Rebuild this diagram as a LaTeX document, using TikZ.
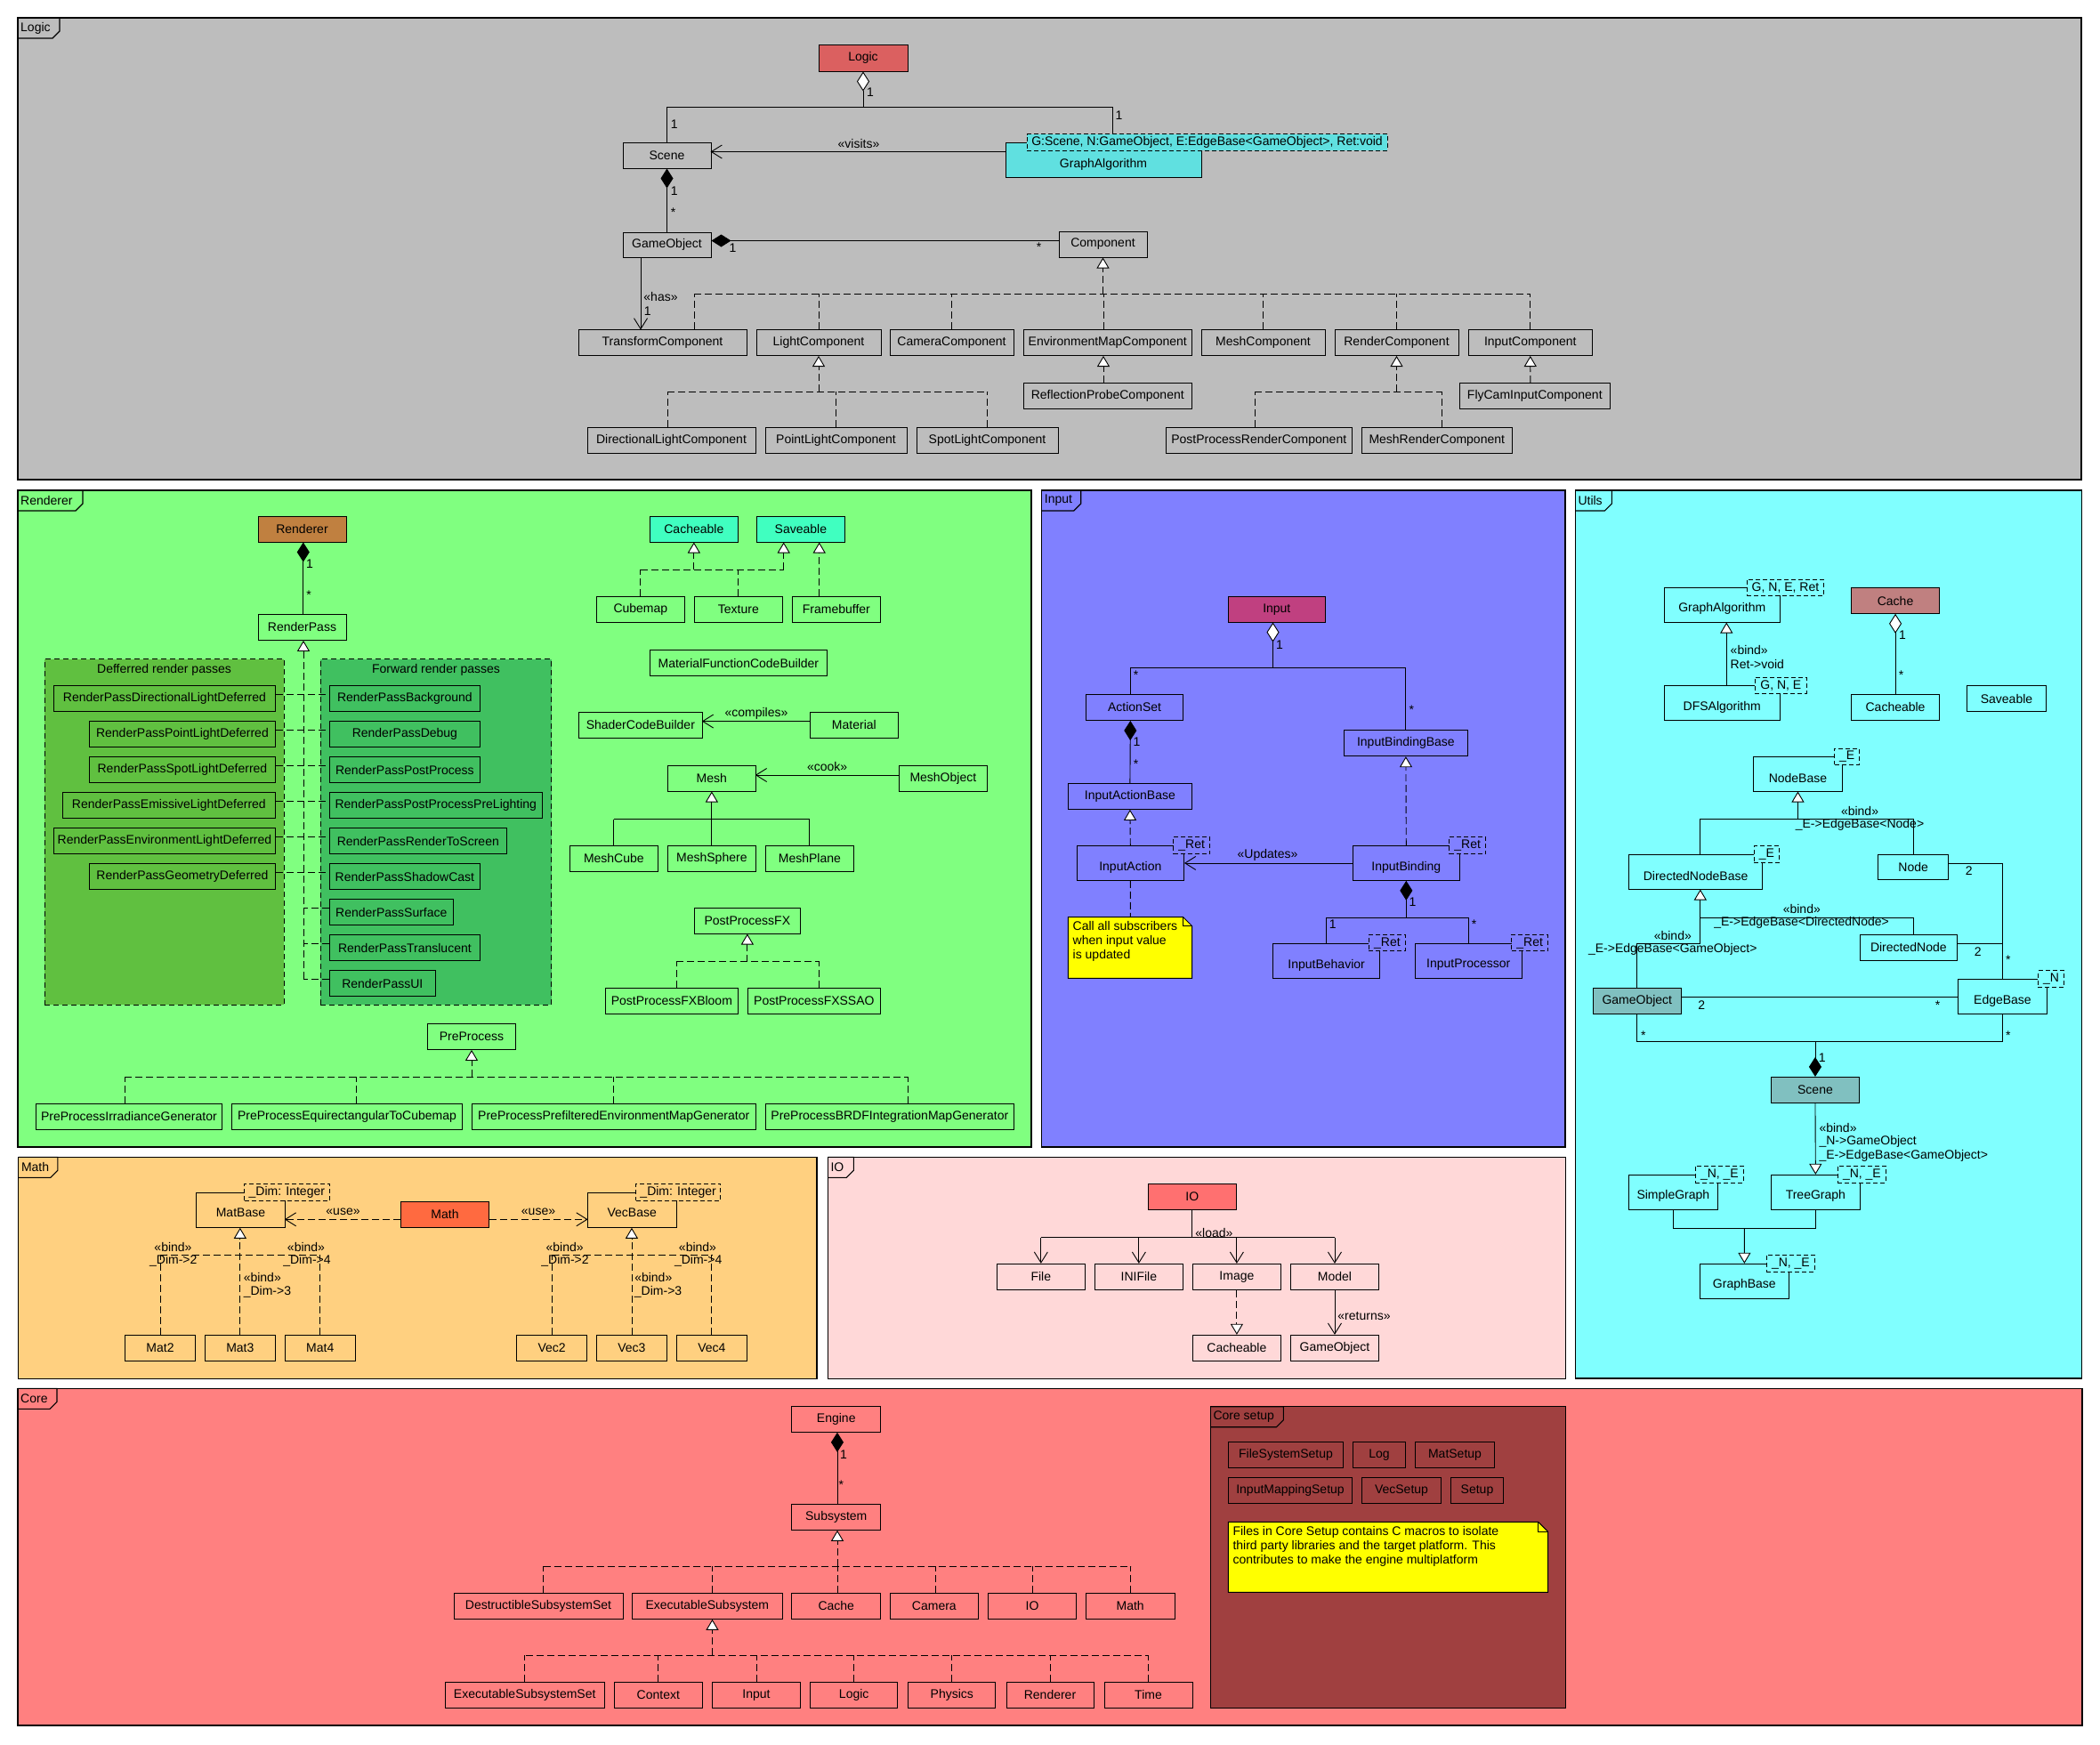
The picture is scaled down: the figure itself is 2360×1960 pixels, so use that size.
\documentclass[tikz,border=0pt]{standalone}
\usepackage{fontspec}
\setmainfont{Liberation Sans}
\usetikzlibrary{arrows.meta}
\definecolor{logicbg}{HTML}{BDBDBD}
\definecolor{logicred}{HTML}{DB6060}
\definecolor{gacyan}{HTML}{60E0E0}
\definecolor{rendbg}{HTML}{80FF80}
\definecolor{rendbrown}{HTML}{C08040}
\definecolor{defgreen}{HTML}{60C040}
\definecolor{fwdgreen}{HTML}{40C060}
\definecolor{aquag}{HTML}{40FFC0}
\definecolor{inputbg}{HTML}{8080FF}
\definecolor{inputmag}{HTML}{C04080}
\definecolor{noteyellow}{HTML}{FFFF00}
\definecolor{utilsbg}{HTML}{80FFFF}
\definecolor{cachebrown}{HTML}{C08080}
\definecolor{tealgray}{HTML}{80C0C0}
\definecolor{mathbg}{HTML}{FFD080}
\definecolor{mathred}{HTML}{FF6A40}
\definecolor{iobg}{HTML}{FFD8D8}
\definecolor{iored}{HTML}{FF7070}
\definecolor{corebg}{HTML}{FF8080}
\definecolor{setupbg}{HTML}{A04040}
\newcommand\fs{\fontsize{14}{16}\selectfont}
\newcommand\lowtxt[2][-4.5pt]{\raisebox{#1}[\height][\depth]{#2}}
\newcommand\ubox[7][]{\node[ucls,#1,minimum width={(#5-#3)*1pt},minimum height={(#6-#4)*1pt}] (#2) at ({(#3+#5)/2},{(#4+#6)/2}) {#7};}
\newcommand\utmpl[7][]{\node[utmplbox,#1,minimum width={(#5-#3)*1pt},minimum height={(#6-#4)*1pt}] (#2) at ({(#3+#5)/2},{(#4+#6)/2}) {#7};}
\newcommand\lb[4][]{\node[ulab,#1] (#2) at (#3) {#4};}
\newcommand\utab[5]{\draw[line width=1.1pt] (#2,#3) -- ({#2+#4},#3) -- ({#2+#4},{#3+15}) -- ({#2+#4-8},{#3+23}) -- (#2,{#3+23});
 \node[ulab,anchor=west] (#1) at ({#2+3},{#3+11.5}) {#5};}
\newcommand\unote[5]{\draw[line width=1pt,fill=noteyellow] (#1,#2) -- ({#3-#5},#2) -- (#3,{#2+#5}) -- (#3,#4) -- (#1,#4) -- cycle;
 \draw[line width=1pt] ({#3-#5},#2) -- ({#3-#5},{#2+#5}) -- (#3,{#2+#5});}
\tikzset{
 ucls/.style={draw,line width=1pt,inner sep=0pt,font=\fs,align=center},
 utmplbox/.style={draw,line width=0.9pt,dash pattern=on 5pt off 3pt,inner sep=0pt,font=\fs},
 ulab/.style={inner sep=0pt,font=\fs},
 ugrp/.style={draw,line width=1pt,dash pattern=on 6pt off 4pt},
 dl/.style={line width=0.9pt,dash pattern=on 8pt off 4pt},
 sl/.style={line width=0.9pt},
 realz/.style={dl,-{Triangle[length=12pt,width=14pt,fill=white]}},
 ugen/.style={sl,-{Triangle[length=12pt,width=14pt,fill=white]}},
 udep/.style={dl,-{Straight Barb[length=12pt,width=15pt]}},
 uassoc/.style={sl,-{Straight Barb[length=12pt,width=15pt]}},
 ucompo/.style={sl,{Diamond[length=22pt,width=14pt]}-},
 uaggro/.style={sl,{Diamond[length=22pt,width=14pt,fill=white]}-},
}
\begin{document}
\begin{tikzpicture}[x=1pt,y=-1pt]
\fill[white] (0,0) rectangle (2360,1960);
\useasboundingbox (0,0) rectangle (2360,1960);
% ================= FRAMES =================
\ubox[fill=logicbg,line width=1.2pt]{fLogic}{20}{20}{2339}{539}{}
\utab{tLogic}{20}{20}{47}{Logic}
\ubox[fill=rendbg,line width=1.2pt]{fRend}{20}{551}{1159}{1289}{}
\utab{tRend}{20}{551}{73}{Renderer}
\ubox[fill=inputbg,line width=1.2pt]{fInput}{1170.7}{551}{1759}{1289}{}
\utab{tInput}{1170.7}{551}{44}{Input}
\ubox[fill=utilsbg,line width=1.2pt]{fUtils}{1770.3}{551}{2339.8}{1549}{}
\utab{tUtils}{1770.3}{551}{41}{Utils}
\ubox[fill=mathbg,line width=1.2pt]{fMath}{20.8}{1300.3}{918}{1549.3}{}
\utab{tMath}{20.8}{1300.3}{44}{Math}
\ubox[fill=iobg,line width=1.2pt]{fIO}{930.3}{1300.3}{1759.6}{1549.3}{}
\utab{tIO}{930.3}{1300.3}{29}{IO}
\ubox[fill=corebg,line width=1.2pt]{fCore}{20}{1560.3}{2340}{1939}{}
\utab{tCore}{20}{1560.3}{44}{Core}
\ubox[fill=setupbg,line width=1.2pt]{fSetup}{1360.3}{1580.7}{1759.3}{1919.3}{}
\utab{tSetup}{1360.3}{1580.7}{82}{Core setup}
% ================= LOGIC =================
\ubox[fill=logicred]{logic}{920}{50}{1020}{80}{Logic}
\ubox{scene}{700}{160}{799}{189}{Scene}
\ubox[fill=gacyan]{ga}{1130}{160}{1350}{199}{\lowtxt[-5pt]{GraphAlgorithm}}
\utmpl[fill=gacyan]{gat}{1154}{150.5}{1559}{169}{G:Scene, N:GameObject, E:EdgeBase<GameObject>, Ret:void}
\ubox{gobj}{700}{261}{799}{289}{GameObject}
\ubox{comp}{1190}{260}{1289}{289}{Component}
\ubox{tc}{650}{370}{839}{399.5}{TransformComponent}
\ubox{lc}{850}{370}{990}{399.5}{LightComponent}
\ubox{cc}{1000}{370}{1139}{399.5}{CameraComponent}
\ubox{emc}{1150}{370}{1339.5}{399.5}{EnvironmentMapComponent}
\ubox{mc}{1350}{370}{1489}{399.5}{MeshComponent}
\ubox{rc}{1500}{370}{1639}{399.5}{RenderComponent}
\ubox{ic}{1650}{370}{1789.5}{399.5}{InputComponent}
\ubox{rpc}{1150}{430.5}{1339.5}{459.5}{ReflectionProbeComponent}
\ubox{fcic}{1640}{430.5}{1809.6}{459.5}{FlyCamInputComponent}
\ubox{dlc}{660}{480.4}{849}{509}{DirectionalLightComponent}
\ubox{plc}{860}{480.4}{1019}{509}{PointLightComponent}
\ubox{slc}{1030}{480.4}{1189}{509}{SpotLightComponent}
\ubox{pprc}{1310}{480.4}{1519.5}{509}{PostProcessRenderComponent}
\ubox{mrc}{1530}{480.4}{1699.5}{509}{MeshRenderComponent}
\draw[uaggro] (logic.south) -- ++(0,40) coordinate (lgb);
\draw[sl] (scene.north) |- (lgb) -| ([xshift=10pt,yshift=9.5pt]ga.north);
\draw[uassoc] ([yshift=9pt]ga.west) -- ++(-331,0);
\draw[ucompo] (scene.south) -- (gobj.north);
\draw[ucompo] ([yshift=4.5pt]gobj.east) -- ++(391,0);
\draw[uassoc] ([xshift=-29.5pt]gobj.south) -- ++(0,81);
\coordinate (cbL) at (780,330); \coordinate (cbR) at (1720,330);
\draw[dl] (cbL) -- (cbR);
\draw[realz] (comp.south |- cbL) -- (comp.south);
\draw[dl] ([xshift=35.5pt]tc.north) -- ++(0,-40);
\draw[dl] (lc.north) -- (lc.north |- cbL);
\draw[dl] (cc.north) -- (cc.north |- cbL);
\draw[dl] ([xshift=-4.75pt]emc.north) -- ++(0,-40);
\draw[dl] (mc.north) -- (mc.north |- cbL);
\draw[dl] (rc.north) -- (rc.north |- cbL);
\draw[dl] (ic.north) -- (ic.north |- cbL);
\draw[realz] ([xshift=-4.75pt]rpc.north) -- ([xshift=-4.75pt]emc.south);
\draw[realz] ([xshift=-5pt]fcic.north) -- (ic.south);
\coordinate (lbL) at (750,440.4); \coordinate (lbR) at (1110,440.4);
\draw[dl] (lbL) -- (lbR);
\draw[realz] (lc.south |- lbL) -- (lc.south);
\draw[dl] ([xshift=-4.5pt]dlc.north) -- ++(0,-40);
\draw[dl] (plc.north) -- (plc.north |- lbL);
\draw[dl] (slc.north) -- (slc.north |- lbL);
\coordinate (rbL) at (1410,440.4); \coordinate (rbR) at (1620,440.4);
\draw[dl] (rbL) -- (rbR);
\draw[realz] (rc.south |- rbL) -- (rc.south);
\draw[dl] ([xshift=-4.75pt]pprc.north) -- ++(0,-40);
\draw[dl] ([xshift=5.25pt]mrc.north) -- ++(0,-40);
\lb{l1}{978,104}{1}
\lb{l2}{757.7,139.5}{1}
\lb{l3}{1257.5,129.5}{1}
\lb{l4}{965,161.5}{«visits»}
\lb{l5}{757.7,214.5}{1}
\lb{l6}{756.5,239}{*}
\lb{l7}{823.5,279}{1}
\lb{l8}{1167.5,278}{*}
\lb{l9}{742.5,333.5}{«has»}
\lb{l10}{727.7,349.5}{1}
% ================= RENDERER =================
\ubox[fill=rendbrown]{renderer}{290}{580.7}{389}{609}{Renderer}
\ubox{rpass}{290}{690}{389}{719.4}{RenderPass}
\draw[ucompo] ([xshift=1.3pt]renderer.south) -- ([xshift=1.3pt]rpass.north);
\lb{l11}{348,634}{1}
\lb{l12}{347,669}{*}
\ubox[ugrp,fill=defgreen]{gdef}{50}{740.7}{319}{1129.4}{}
\ubox[ugrp,fill=fwdgreen]{gfwd}{360}{740.7}{619.6}{1129.4}{}
\lb{l15}{184.5,753}{Defferred render passes}
\lb{l16}{490,753}{Forward render passes}
\ubox{d1}{60.4}{770.7}{309.5}{799.3}{RenderPassDirectionalLightDeferred}
\ubox{d2}{100.4}{810.7}{309.5}{839.3}{RenderPassPointLightDeferred}
\ubox{d3}{100.4}{850.7}{309.5}{879.3}{RenderPassSpotLightDeferred}
\ubox{d4}{70.2}{890.7}{309.5}{919.3}{RenderPassEmissiveLightDeferred}
\ubox{d5}{60.4}{930.7}{309.5}{959.3}{RenderPassEnvironmentLightDeferred}
\ubox{d6}{100.4}{970.7}{309.5}{999.3}{RenderPassGeometryDeferred}
\ubox{f1}{370.2}{770.7}{539.6}{799.3}{RenderPassBackground}
\ubox{f2}{370.2}{810.7}{539.6}{839.3}{RenderPassDebug}
\ubox{f3}{370.2}{850.7}{539.6}{879.3}{RenderPassPostProcess}
\ubox{f4}{370.2}{890.7}{609.4}{919.3}{RenderPassPostProcessPreLighting}
\ubox{f5}{370.2}{930.7}{569.4}{959.3}{RenderPassRenderToScreen}
\ubox{f6}{370.2}{970.7}{539.6}{999.3}{RenderPassShadowCast}
\ubox{f7}{370.2}{1010.7}{509.4}{1039.3}{RenderPassSurface}
\ubox{f8}{370.2}{1050.7}{539.6}{1079.3}{RenderPassTranslucent}
\ubox{f9}{370.2}{1090.7}{489.4}{1119.3}{RenderPassUI}
\foreach \i in {1,...,6} \draw[dl] ([yshift=4.5pt]d\i.east) -- ([yshift=4.5pt]f\i.west);
\foreach \i in {7,8,9} \draw[dl] ([yshift=4.5pt]f\i.west) -- ++(-29.2,0);
\coordinate (rtrunk) at (341,1100.4);
\draw[realz] (rtrunk) -- (rtrunk |- rpass.south);
\ubox[fill=aquag]{rcache}{730.4}{580.7}{829.3}{609}{Cacheable}
\ubox[fill=aquag]{rsave}{850.4}{580.7}{949.3}{609}{Saveable}
\ubox{cubemap}{670.4}{670.4}{769.3}{699}{Cubemap}
\ubox{texture}{780.4}{670.4}{879.3}{699}{Texture}
\ubox{fbuf}{890.4}{670.4}{989.3}{699}{Framebuffer}
\coordinate (tbL) at (720.4,640.3); \coordinate (tbR) at (880.7,640.3);
\draw[dl] (tbL) -- (tbR);
\draw[realz] (rcache.south |- tbL) -- (rcache.south);
\draw[realz] (tbR) -- (tbR |- rsave.south);
\draw[dl] (cubemap.north) -- (cubemap.north |- tbL);
\draw[dl] (texture.north) -- (texture.north |- tbL);
\draw[realz] ([xshift=-19.15pt]fbuf.north) -- ([xshift=20.85pt]rsave.south);
\ubox{mfcb}{730.4}{730.5}{929.3}{759.6}{MaterialFunctionCodeBuilder}
\ubox{scb}{650.4}{800.3}{789.3}{829.4}{ShaderCodeBuilder}
\ubox{material}{910.4}{800.3}{1009.3}{829.4}{Material}
\draw[uassoc] ([yshift=4.3pt]material.west) -- ++(-121.1,0);
\lb{l13}{850,801.5}{«compiles»}
\ubox{mesh}{750.4}{860.4}{849.3}{889}{Mesh}
\ubox{meshobj}{1010.4}{860.4}{1109.3}{889}{MeshObject}
\draw[uassoc] ([yshift=3.7pt]meshobj.west) -- ++(-161.1,0);
\lb{l14}{929.6,861.4}{«cook»}
\ubox{meshcube}{640.4}{950.6}{739.3}{979.2}{MeshCube}
\ubox{meshsphere}{750.4}{950.6}{849.3}{979.2}{MeshSphere}
\ubox{meshplane}{860.4}{950.6}{959.3}{979.2}{MeshPlane}
\coordinate (mbL) at (690.4,920.5); \coordinate (mbR) at (910.4,920.5);
\draw[sl] (mbL) -- (mbR);
\draw[ugen] (mesh.south |- mbL) -- (mesh.south);
\draw[sl] (meshcube.north) -- (meshcube.north |- mbL);
\draw[sl] (meshsphere.north) -- (meshsphere.north |- mbL);
\draw[sl] (meshplane.north) -- (meshplane.north |- mbL);
\ubox{ppfx}{780.4}{1020.4}{899.3}{1049}{PostProcessFX}
\ubox{bloom}{680.4}{1110.5}{829.3}{1139.1}{PostProcessFXBloom}
\ubox{ssao}{840.4}{1110.5}{989.3}{1139.1}{PostProcessFXSSAO}
\coordinate (pbL) at (760.4,1080.5); \coordinate (pbR) at (920.4,1080.5);
\draw[dl] (pbL) -- (pbR);
\draw[realz] (ppfx.south |- pbL) -- (ppfx.south);
\draw[dl] ([xshift=5.5pt]bloom.north) -- ++(0,-30);
\draw[dl] ([xshift=5.5pt]ssao.north) -- ++(0,-30);
\ubox{prep}{480.4}{1150.8}{579.6}{1179.4}{PreProcess}
\ubox{irr}{40.4}{1240.4}{249.4}{1269}{PreProcessIrradianceGenerator}
\ubox{equi}{260.4}{1240.4}{519.6}{1269}{PreProcessEquirectangularToCubemap}
\ubox{pref}{530.2}{1240.4}{849.3}{1269}{PreProcessPrefilteredEnvironmentMapGenerator}
\ubox{brdf}{860.4}{1240.4}{1139.3}{1269}{PreProcessBRDFIntegrationMapGenerator}
\coordinate (ppbL) at (140.4,1210.4); \coordinate (ppbR) at (1020.4,1210.4);
\draw[dl] (ppbL) -- (ppbR);
\draw[realz] (prep.south |- ppbL) -- (prep.south);
\draw[dl] ([xshift=-4.5pt]irr.north) -- ++(0,-30);
\draw[dl] ([xshift=10.4pt]equi.north) -- ++(0,-30);
\draw[dl] (pref.north) -- (pref.north |- ppbL);
\draw[dl] ([xshift=20.5pt]brdf.north) -- ++(0,-30);
% ================= INPUT =================
\ubox[fill=inputmag]{input}{1380.2}{670.4}{1489.4}{699}{Input}
\ubox{actset}{1220.5}{780.4}{1329.6}{809.5}{ActionSet}
\ubox{iab}{1200.3}{880.3}{1339.5}{909.4}{InputActionBase}
\ubox{iaction}{1210.2}{950.6}{1330.4}{989.3}{\lowtxt{InputAction}}
\utmpl[fill=inputbg]{iactiont}{1318.6}{940.4}{1359.7}{959.8}{\_Ret}
\ubox{ibb}{1510.3}{820.7}{1649.5}{849.7}{InputBindingBase}
\ubox{ibind}{1520.2}{950.6}{1640.4}{989.3}{\lowtxt{InputBinding}}
\utmpl[fill=inputbg]{ibindt}{1628.6}{940.4}{1669.7}{959.8}{\_Ret}
\ubox{ibeh}{1430.5}{1060.6}{1550.7}{1099.4}{\lowtxt{InputBehavior}}
\utmpl[fill=inputbg]{ibeht}{1538.4}{1050.4}{1579.5}{1068.8}{\_Ret}
\ubox{iproc}{1590.2}{1060.6}{1710.4}{1099.4}{\lowtxt{InputProcessor}}
\utmpl[fill=inputbg]{iproct}{1698.6}{1050.4}{1739.7}{1068.8}{\_Ret}
\unote{1200.3}{1030.5}{1339.5}{1099.4}{10}
\node[ulab,anchor=north west,align=left] (inote) at (1205.5,1035.5) {Call all subscribers\\when input value\\is updated};
\coordinate (inoteTop) at (1270.3,1030.5);
\draw[dl] (iaction.south) -- (inoteTop);
\draw[uaggro] ([xshift=-4.3pt]input.south) -- ++(0,51.4) coordinate (inb);
\draw[sl] ([xshift=-4.7pt]actset.north) |- (inb) -| (ibb.north);
\draw[ucompo] ([xshift=-4.7pt]actset.south) -- (iab.north);
\draw[realz] (iaction.north) -- (iab.south);
\draw[realz] (ibind.north) -- (ibb.south);
\draw[uassoc] (ibind.west) -- (iaction.east);
\draw[ucompo] (ibind.south) -- ++(0,41.2) coordinate (ibbus);
\draw[sl] (ibeh.north) |- (ibbus) -| (iproc.north);
\lb{l17}{1438,724.2}{1}
\lb{l18}{1276.6,759}{*}
\lb{l19}{1586.3,798}{*}
\lb{l20}{1277.4,833.7}{1}
\lb{l21}{1276.6,858.5}{*}
\lb{l22}{1424.5,961.2}{«Updates»}
\lb{l23}{1587.4,1013.6}{1}
\lb{l24}{1497.7,1038.8}{1}
\lb{l25}{1656.6,1038.4}{*}
% ================= UTILS =================
\ubox{uga}{1870.2}{660.7}{2000.3}{699}{\lowtxt{GraphAlgorithm}}
\utmpl[fill=utilsbg]{ugat}{1963.2}{651}{2049.7}{669}{G, N, E, Ret}
\ubox{udfs}{1870.2}{770.7}{2000.3}{809.5}{\lowtxt{DFSAlgorithm}}
\utmpl[fill=utilsbg]{udfst}{1972.4}{761}{2030.2}{779}{G, N, E}
\draw[ugen] ([xshift=5pt]udfs.north) -- ([xshift=5pt]uga.south);
\lb[anchor=west]{l26}{1944.5,730}{«bind»}
\lb[anchor=west]{l27}{1944.5,746}{Ret->void}
\ubox[fill=cachebrown]{ucache}{2080.3}{660.7}{2179.8}{689.3}{Cache}
\ubox{ucacheable}{2080.3}{780.4}{2179.8}{809.5}{Cacheable}
\draw[uaggro] (ucache.south) -- (ucacheable.north);
\lb{l28}{2138,714}{1}
\lb{l29}{2136.6,759}{*}
\ubox{usave}{2210.4}{770.7}{2299.6}{799.3}{Saveable}
\ubox{nbase}{1970.5}{850.7}{2070.4}{889}{\lowtxt{NodeBase}}
\utmpl[fill=utilsbg]{nbaset}{2061.6}{841}{2089.5}{859}{\_E}
\ubox{dnbase}{1830.4}{960.7}{1980.8}{999}{\lowtxt{DirectedNodeBase}}
\utmpl[fill=utilsbg]{dnbaset}{1971.3}{950.6}{1999.6}{969.5}{\_E}
\ubox{unode}{2110.5}{960.7}{2189.8}{988.9}{Node}
\ubox{dnode}{2090.3}{1050.4}{2199.3}{1079}{DirectedNode}
\ubox[fill=tealgray]{ugo}{1790.2}{1110.5}{1889.4}{1139.1}{GameObject}
\ubox{ebase}{2200.5}{1100.8}{2300.4}{1139.1}{\lowtxt{EdgeBase}}
\utmpl[fill=utilsbg]{ebaset}{2290.4}{1090.7}{2319.5}{1109.6}{\_N}
\ubox[fill=tealgray]{uscene}{1990.4}{1210.4}{2089.5}{1239.2}{Scene}
\ubox{sgraph}{1830.4}{1320.3}{1930.3}{1359.3}{\lowtxt{SimpleGraph}}
\utmpl[fill=utilsbg]{sgrapht}{1905.4}{1310.3}{1959.4}{1329.3}{\_N, \_E}
\ubox{tgraph}{1990.4}{1320.3}{2090.3}{1359.3}{\lowtxt{TreeGraph}}
\utmpl[fill=utilsbg]{tgrapht}{2065.4}{1310.3}{2119.4}{1329.3}{\_N, \_E}
\ubox{gbase}{1910.4}{1420.3}{2010.3}{1459.3}{\lowtxt{GraphBase}}
\utmpl[fill=utilsbg]{gbaset}{1985.4}{1410.3}{2039.4}{1429.3}{\_N, \_E}
\coordinate (nbL) at (1910.8,920.5);
\draw[ugen] (nbase.south |- nbL) -- (nbase.south);
\draw[sl] ([xshift=5.2pt]dnbase.north) |- (unode.north |- nbL) -- (unode.north);
\lb{l30}{2090,911.8}{«bind»}
\lb{l31}{2090,927.3}{\_E->EdgeBase<Node>}
\coordinate (dnbJ) at (1910.8,1031);
\coordinate (goJ) at (1910.8,1060.1);
\draw[ugen] (goJ) -- (goJ |- dnbase.south);
\draw[sl] ([xshift=5.6pt]dnode.north) |- (dnbJ);
\draw[sl] (ugo.north) |- (goJ);
\lb{l32}{2024.8,1021.3}{«bind»}
\lb{l33}{2024.6,1037.3}{\_E->EdgeBase<DirectedNode>}
\lb{l34}{1879.8,1051.4}{«bind»}
\lb{l35}{1879.8,1067}{\_E->EdgeBase<GameObject>}
\draw[sl] ([yshift=4.8pt]unode.east) -| (ebase.north);
\draw[sl] ([yshift=4.6pt]dnode.east) -- ++(51.1,0);
\draw[sl] (ugo.east |- ebase.west) -- (ebase.west);
\draw[sl] (ugo.south) -- ++(0,31.1) -| (ebase.south);
\draw[ucompo] (uscene.north) -- ++(0,-40.2);
\lb{l36}{2212.7,979}{2}
\lb{l37}{2222.7,1069.3}{2}
\lb{l38}{2256.7,1079}{*}
\lb{l39}{1912.3,1129.6}{2}
\lb{l40}{2177.5,1129.3}{*}
\lb{l41}{1846.9,1163.2}{*}
\lb{l42}{2256.7,1163.2}{*}
\lb{l43}{2047.8,1189}{1}
\draw[ugen] (uscene.south) -- (tgraph.north);
\lb[anchor=west]{l44}{2044.3,1267.3}{«bind»}
\lb[anchor=west]{l45}{2044.3,1283.3}{\_N->GameObject}
\lb[anchor=west]{l46}{2044.3,1299.3}{\_E->EdgeBase<GameObject>}
\coordinate (gbJ) at (1960.4,1380.3);
\draw[sl] (sgraph.south) |- (gbJ) -| (tgraph.south);
\draw[ugen] (gbJ) -- (gbase.north);
% ================= MATH =================
\ubox{matbase}{220.6}{1340.3}{320.3}{1379.3}{\lowtxt[-2.5pt]{MatBase}}
\utmpl[fill=mathbg]{matbaset}{274.6}{1330}{370.1}{1349}{\_Dim: Integer}
\ubox[fill=mathred]{mathn}{450.8}{1350.3}{549.2}{1379.3}{Math}
\ubox{vecbase}{660.1}{1340.3}{760.4}{1379.3}{\lowtxt[-2.5pt]{VecBase}}
\utmpl[fill=mathbg]{vecbaset}{714.7}{1330}{809.6}{1349}{\_Dim: Integer}
\ubox{mat2}{140.6}{1500.3}{219.4}{1529.3}{Mat2}
\ubox{mat3}{230.1}{1500.3}{309.6}{1529.3}{Mat3}
\ubox{mat4}{320.3}{1500.3}{399.2}{1529.3}{Mat4}
\ubox{vec2}{580.7}{1500.3}{659.5}{1529.3}{Vec2}
\ubox{vec3}{670.2}{1500.3}{749.7}{1529.3}{Vec3}
\ubox{vec4}{760.4}{1500.3}{839.3}{1529.3}{Vec4}
\draw[udep] ([yshift=-5.5pt]mathn.west) -- ++(-130.5,0);
\draw[udep] ([yshift=-5.5pt]mathn.east) -- ++(110.9,0);
\lb{l59}{385.5,1361.7}{«use»}
\lb{l60}{605,1361.7}{«use»}
\coordinate (mbbL) at (180.3,1410.3); \coordinate (mbbR) at (360,1410.3);
\draw[dl] (mbbL) -- (mbbR);
\draw[dl] (mat2.north) -- (mat2.north |- mbbL);
\draw[dl] (mat4.north) -- (mat4.north |- mbbL);
\draw[realz] (mat3.north) -- (mat3.north |- matbase.south);
\coordinate (vbbL) at (620.4,1410.3); \coordinate (vbbR) at (800.7,1410.3);
\draw[dl] (vbbL) -- (vbbR);
\draw[dl] (vec2.north) -- (vec2.north |- vbbL);
\draw[dl] (vec4.north) -- (vec4.north |- vbbL);
\draw[realz] (vec3.north) -- (vec3.north |- vecbase.south);
\lb{l47}{194.5,1401}{«bind»}
\lb{l48}{194.8,1416.7}{\_Dim->2}
\lb{l49}{344,1401}{«bind»}
\lb{l50}{345,1416.7}{\_Dim->4}
\lb{l51}{294.8,1435.7}{«bind»}
\lb{l52}{300.4,1451.7}{\_Dim->3}
\lb{l53}{634.6,1401}{«bind»}
\lb{l54}{635,1416.7}{\_Dim->2}
\lb{l55}{784,1401}{«bind»}
\lb{l56}{784.7,1416.7}{\_Dim->4}
\lb{l57}{734.3,1435.7}{«bind»}
\lb{l58}{739.6,1451.7}{\_Dim->3}
% ================= IO =================
\ubox[fill=iored]{ion}{1290.2}{1330.3}{1389.4}{1359.3}{IO}
\ubox{file}{1120.5}{1420.3}{1219.2}{1449.3}{File}
\ubox{inifile}{1230.6}{1420.3}{1329.2}{1449.3}{INIFile}
\ubox{image}{1340.6}{1420.3}{1439.2}{1449.3}{Image}
\ubox{model}{1450.6}{1420.3}{1549.3}{1449.3}{Model}
\ubox{iocache}{1340.6}{1500.3}{1439.2}{1529.3}{Cacheable}
\ubox{iogo}{1450.6}{1500.3}{1549.3}{1529.3}{GameObject}
\draw[sl] (ion.south) -- ++(0,30.7) coordinate (ioJ);
\draw[sl] (file.north |- ioJ) -- (model.north |- ioJ);
\foreach \n in {file,inifile,image,model} \draw[uassoc] (\n.north |- ioJ) -- (\n.north);
\draw[realz] (image.south) -- (iocache.north);
\draw[uassoc] (model.south) -- (iogo.north);
\lb{l61}{1364.4,1385}{«load»}
\lb{l62}{1533,1479}{«returns»}
% ================= CORE =================
\ubox{engine}{889.9}{1580.3}{989.6}{1609.3}{Engine}
\ubox{subsys}{889.9}{1690.3}{989.6}{1719.3}{Subsystem}
\draw[ucompo] ([xshift=1.2pt]engine.south) -- ([xshift=1.2pt]subsys.north);
\lb{l63}{948,1634.7}{1}
\lb{l64}{945.4,1669}{*}
\ubox{dss}{510}{1790.3}{700}{1819.3}{DestructibleSubsystemSet}
\ubox{exs}{710.3}{1790.3}{879.4}{1819.3}{ExecutableSubsystem}
\ubox{ccache}{889.9}{1790.3}{989.6}{1819.3}{Cache}
\ubox{ccam}{1000}{1790.3}{1099.7}{1819.3}{Camera}
\ubox{cio}{1110.1}{1790.3}{1209.9}{1819.3}{IO}
\ubox{cmath}{1220.3}{1790.3}{1320}{1819.3}{Math}
\coordinate (cb1L) at (610.6,1760.3); \coordinate (cb1R) at (1270.6,1760.3);
\coordinate (cb1M) at (941,1760.3);
\draw[dl] (cb1L) -- (cb1R);
\draw[realz] (cb1M) -- (cb1M |- subsys.south);
\draw[dl] ([xshift=5.6pt]dss.north) -- ++(0,-30);
\draw[dl] ([xshift=5.6pt]exs.north) -- ++(0,-30);
\draw[dl] ([xshift=1.2pt]ccache.north) -- ++(0,-30);
\draw[dl] ([xshift=1.2pt]ccam.north) -- ++(0,-30);
\draw[dl] (cio.north) -- (cio.north |- cb1L);
\draw[dl] (cmath.north) -- (cmath.north |- cb1L);
\ubox{exss}{500.4}{1890.3}{679.1}{1919.3}{ExecutableSubsystemSet}
\ubox{ctx}{690.4}{1890.3}{789.2}{1919.3}{Context}
\ubox{cinput}{800.5}{1890.3}{899.4}{1919.3}{Input}
\ubox{clogic}{910.7}{1890.3}{1008.7}{1919.3}{Logic}
\ubox{cphys}{1020.8}{1890.3}{1118.8}{1919.3}{Physics}
\ubox{crend}{1131}{1890.3}{1229}{1919.3}{Renderer}
\ubox{ctime}{1241}{1890.3}{1340}{1919.3}{Time}
\coordinate (cb2L) at (590.6,1860.3); \coordinate (cb2R) at (1290.5,1860.3);
\coordinate (cb2M) at (800.5,1860.3);
\draw[dl] (cb2L) -- (cb2R);
\draw[realz] (cb2M) -- (cb2M |- exs.south);
\foreach \n in {exss,ctx,cinput,clogic,cphys,crend,ctime} \draw[dl] (\n.north) -- (\n.north |- cb2L);
% ================= CORE SETUP =================
\ubox{fss}{1380.3}{1620.3}{1509.7}{1649.3}{FileSystemSetup}
\ubox{log}{1520.3}{1620.3}{1579.7}{1649.3}{Log}
\ubox{matsetup}{1590.3}{1620.3}{1679.7}{1649.3}{MatSetup}
\ubox{ims}{1380.3}{1660.3}{1519.7}{1689.3}{InputMappingSetup}
\ubox{vecsetup}{1530.3}{1660.3}{1619.7}{1689.3}{VecSetup}
\ubox{setup}{1630.3}{1660.3}{1689.7}{1689.3}{Setup}
\unote{1380.3}{1710.3}{1739.7}{1789.3}{11}
\node[ulab,anchor=north west,align=left] (csnote) at (1385.3,1715.3) {Files in Core Setup contains C macros to isolate\\third party libraries and the target platform. This\\contributes to make the engine multiplatform};
\end{tikzpicture}
\end{document}
